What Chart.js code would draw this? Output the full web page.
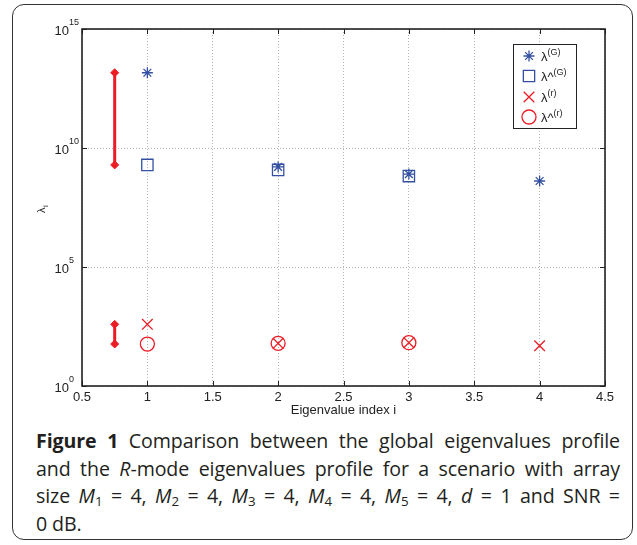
<!DOCTYPE html>
<html>
<head>
<meta charset="utf-8">
<script src="https://cdn.jsdelivr.net/npm/chart.js@4.4.1/dist/chart.umd.min.js"></script>
<style>
  body { margin: 0; background: #fff; width: 637px; height: 545px; position: relative; overflow: hidden; }
  #frame { position: absolute; left: 12px; top: 4px; width: 621px; height: 536px; border: 1.5px solid #333; border-radius: 12px; box-sizing: border-box; }
  #plot { position: absolute; left: 0; top: 0; width: 637px; height: 425px; }
  #caption { position: absolute; left: 36px; top: 427px; width: 584px; font-family: "Open Sans", "Noto Sans", sans-serif; font-size: 19.6px; line-height: 27.7px; color: #231f20; letter-spacing: -0.1px; }
  #caption div { text-align: justify; text-align-last: justify; }
  #caption div.last { text-align-last: left; }
  #caption sub { font-size: 0.68em; line-height: 0; vertical-align: -0.22em; }
</style>
</head>
<body>
<div id="frame"></div>
<div id="plot"><canvas id="chart"></canvas></div>
<div id="caption">
  <div><b>Figure 1</b> Comparison between the global eigenvalues profile</div>
  <div>and the <i>R</i>-mode eigenvalues profile for a scenario with array</div>
  <div>size <i>M</i><sub>1</sub> = 4, <i>M</i><sub>2</sub> = 4, <i>M</i><sub>3</sub> = 4, <i>M</i><sub>4</sub> = 4, <i>M</i><sub>5</sub> = 4, <i>d</i> = 1 and SNR =</div>
  <div class="last">0 dB.</div>
</div>
<script>
// Eigenvalue profiles
const idxG = [1, 2, 3, 4];
const lamG = [1.45e13, 1.6e9, 8.0e8, 4.1e8];
const idxHatG = [1, 2, 3];
const lamHatG = [1.95e9, 1.2e9, 6.6e8];
const idxR = [1, 2, 3, 4];
const lamR = [390, 62, 66, 49];
const idxHatR = [1, 2, 3];
const lamHatR = [58, 62, 66];
const gapX = 0.75; // where the red gap markers sit

const xTicks = [0.5, 1, 1.5, 2, 2.5, 3, 3.5, 4, 4.5];
const xTickLabels = ['0.5', '1', '1.5', '2', '2.5', '3', '3.5', '4', '4.5'];
const yTicks = [1, 1e5, 1e10, 1e15];
const yTickExps = ['0', '5', '10', '15'];

const legendBase = ['λ', 'λ^', 'λ', 'λ^'];
const legendSup = ['(G)', '(G)', '(r)', '(r)'];

const BLUE = '#3450a2';
const RED = '#ec1c24';
const INK = '#222';

const pts = (xs, ys) => xs.map((v, i) => ({ x: v, y: ys[i] }));

// Axes text, box, tick marks and legend drawn on top of the chart
const overlay = {
  id: 'overlay',
  afterDraw(chart) {
    const { ctx, chartArea: a, scales: { x, y } } = chart;
    ctx.save();

    // inward tick marks on all four sides
    ctx.strokeStyle = INK;
    ctx.lineWidth = 1;
    ctx.beginPath();
    x.ticks.forEach(t => {
      const px = Math.round(x.getPixelForValue(t.value)) + 0.5;
      ctx.moveTo(px, a.bottom); ctx.lineTo(px, a.bottom - 5);
      ctx.moveTo(px, a.top); ctx.lineTo(px, a.top + 5);
    });
    y.ticks.forEach(t => {
      const py = Math.round(y.getPixelForValue(t.value)) + 0.5;
      ctx.moveTo(a.left, py); ctx.lineTo(a.left + 5, py);
      ctx.moveTo(a.right, py); ctx.lineTo(a.right - 5, py);
    });
    ctx.stroke();

    // axes box
    ctx.lineWidth = 1.6;
    ctx.strokeRect(a.left, a.top, a.right - a.left, a.bottom - a.top);

    // x tick labels
    ctx.fillStyle = INK;
    ctx.font = '13px "Liberation Sans"';
    ctx.textAlign = 'center';
    ctx.textBaseline = 'middle';
    x.ticks.forEach((t, i) => {
      ctx.fillText(xTickLabels[i], x.getPixelForValue(t.value), a.bottom + 11);
    });
    ctx.fillText('Eigenvalue index i', (a.left + a.right) / 2, a.bottom + 24);

    // y tick labels 10^n
    y.ticks.forEach((t, i) => {
      const py = y.getPixelForValue(t.value);
      ctx.font = '13px "Liberation Sans"';
      ctx.textAlign = 'right';
      ctx.fillText('10', 69, py + 2);
      ctx.font = '9px "Liberation Sans"';
      ctx.textAlign = 'left';
      ctx.fillText(yTickExps[i], 69, py - 6);
    });

    // y axis title λ_i
    ctx.save();
    ctx.translate(42, 208);
    ctx.rotate(-Math.PI / 2);
    ctx.font = '11px "Liberation Sans"';
    ctx.textAlign = 'left';
    ctx.fillText('λ', -5, 0);
    ctx.font = '8px "Liberation Sans"';
    ctx.fillText('i', 1, 4);
    ctx.restore();

    // legend
    ctx.fillStyle = '#fff';
    ctx.fillRect(513, 44, 63, 84);
    ctx.strokeStyle = INK;
    ctx.lineWidth = 1;
    ctx.strokeRect(513.5, 44.5, 63, 84);
    const rows = [56, 76, 97, 117];
    chart.data.datasets.slice(0, 4).forEach((ds, i) => {
      ctx.fillStyle = 'rgba(0,0,0,0)';
      ctx.strokeStyle = ds.borderColor;
      ctx.lineWidth = ds.pointBorderWidth;
      Chart.helpers.drawPoint(ctx, {
        pointStyle: ds.pointStyle,
        radius: ds.pointRadius,
        rotation: 0,
        borderWidth: ds.pointBorderWidth
      }, 529, rows[i]);
      ctx.fillStyle = INK;
      ctx.textAlign = 'left';
      ctx.textBaseline = 'alphabetic';
      ctx.font = '13px "Liberation Sans"';
      ctx.fillText(legendBase[i], 541, rows[i] + 5);
      const w = ctx.measureText(legendBase[i]).width;
      ctx.font = '9px "Liberation Sans"';
      ctx.fillText(legendSup[i], 541 + w, rows[i] - 1);
    });

    ctx.restore();
  }
};

const markerSet = (label, xs, ys, style, radius, color) => ({
  label: label,
  data: pts(xs, ys),
  pointStyle: style,
  pointRadius: radius,
  pointBorderWidth: 1.3,
  borderColor: color,
  backgroundColor: 'rgba(0,0,0,0)',
  showLine: false
});

const gapSet = (y1, y2) => ({
  label: 'gap',
  data: [{ x: gapX, y: y1 }, { x: gapX, y: y2 }],
  showLine: true,
  borderColor: RED,
  borderWidth: 3,
  pointStyle: 'rectRot',
  pointRadius: 4,
  pointBackgroundColor: RED,
  pointBorderColor: RED,
  pointBorderWidth: 1
});

new Chart(document.getElementById('chart'), {
  type: 'scatter',
  data: {
    datasets: [
      markerSet('λ(G)', idxG, lamG, 'star', 5.5, BLUE),
      markerSet('λ^(G)', idxHatG, lamHatG, 'rect', 8, BLUE),
      markerSet('λ(r)', idxR, lamR, 'crossRot', 7.5, RED),
      markerSet('λ^(r)', idxHatR, lamHatR, 'circle', 7, RED),
      gapSet(lamG[0], lamHatG[0]),
      gapSet(lamR[0], lamHatR[0])
    ]
  },
  options: {
    responsive: true,
    maintainAspectRatio: false,
    animation: false,
    layout: { padding: { left: 82, top: 29, right: 32, bottom: 39 } },
    plugins: { legend: { display: false }, tooltip: { enabled: false } },
    scales: {
      x: {
        type: 'linear',
        min: 0.5,
        max: 4.5,
        afterBuildTicks: scale => { scale.ticks = xTicks.map(v => ({ value: v })); },
        ticks: { display: false },
        grid: { color: '#b4b4b4', lineWidth: 1, drawTicks: false },
        border: { display: false, dash: [1, 2] }
      },
      y: {
        type: 'logarithmic',
        min: 1,
        max: 1e15,
        afterBuildTicks: scale => { scale.ticks = yTicks.map(v => ({ value: v })); },
        ticks: { display: false },
        grid: { color: '#b4b4b4', lineWidth: 1, drawTicks: false },
        border: { display: false, dash: [1, 2] }
      }
    }
  },
  plugins: [overlay]
});
</script>
</body>
</html>
